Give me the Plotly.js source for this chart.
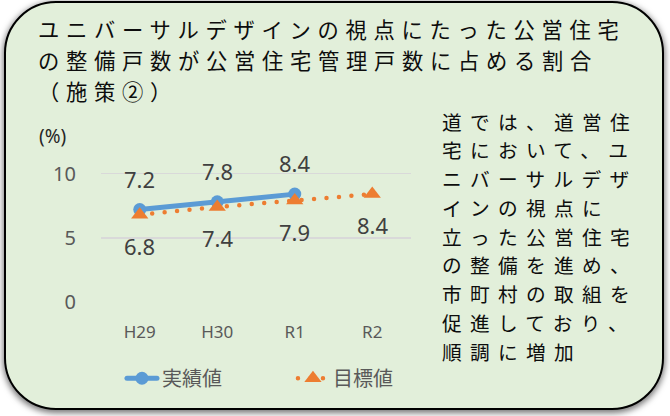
<!DOCTYPE html>
<html><head><meta charset="utf-8">
<script src="https://cdn.plot.ly/plotly-3.0.1.min.js"></script>
<style>
html,body{margin:0;padding:0;background:#fff;}
#wrap{position:relative;width:670px;height:416px;overflow:hidden;}
#box{position:absolute;left:4px;top:1px;width:660px;height:409px;box-sizing:border-box;border:2px solid #000;border-radius:52px;background:#e2efda;box-shadow:0 2px 6px 1px rgba(0,0,0,0.55);}
#chart{position:absolute;left:0;top:0;width:670px;height:416px;}
.js-line{stroke-linecap:round;}
</style></head>
<body><div id="wrap"><div id="box"></div><div id="chart"></div></div>
<script>
const categories = ['H29', 'H30', 'R1', 'R2'];
const actualValues = [7.2, 7.8, 8.4, null];
const targetValues = [6.8, 7.4, 7.9, 8.4];
const seriesNames = ['実績値', '目標値'];
const yTicks = [0, 5, 10];
const unitLabel = '(%)';
const titleLines = [
  'ユニバーサルデザインの視点にたった公営住宅',
  'の整備戸数が公営住宅管理戸数に占める割合',
  '（施策②）'
];
const noteLines = [
  '道では、道営住',
  '宅において、ユ',
  'ニバーサルデザ',
  'インの視点に',
  '立った公営住宅',
  'の整備を進め、',
  '市町村の取組を',
  '促進しており、',
  '順調に増加'
];

const W = 670, H = 416;
const ML = 101, PW = 310, MT = 171.44, PH = 130.56;
const px = x => (x - ML) / PW;
const py = y => (MT + PH - y) / PH;

const JP = '"Noto Sans CJK JP", "Noto Sans", sans-serif';
const LAT = '"Noto Sans", "Noto Sans CJK JP", sans-serif';

const TITLE_SIZE = 21.3, NOTE_SIZE = 19.7, CELL = 28;
const css = [];
titleLines.forEach((t, i) => css.push('g.annotation[data-index="' + i + '"] text{letter-spacing:' + (CELL - TITLE_SIZE) + 'px;}'));
noteLines.forEach((t, i) => css.push('g.annotation[data-index="' + (titleLines.length + i) + '"] text{letter-spacing:' + (CELL - NOTE_SIZE) + 'px;}'));
const st = document.createElement('style'); st.textContent = css.join('\n'); document.head.appendChild(st);

const annotations = [];
titleLines.forEach((t, i) => {
  annotations.push({text: t, xref: 'paper', yref: 'paper', x: px(36), y: py(29 + 31 * i),
    xanchor: 'left', yanchor: 'middle', align: 'left', showarrow: false,
    font: {family: JP, size: TITLE_SIZE, color: '#0d0d0d'}});
});
noteLines.forEach((t, i) => {
  annotations.push({text: t, xref: 'paper', yref: 'paper', x: px(440), y: py(121.7 + 28.65 * i),
    xanchor: 'left', yanchor: 'middle', align: 'left', showarrow: false,
    font: {family: JP, size: NOTE_SIZE, color: '#0d0d0d'}});
});
annotations.push({text: unitLabel, xref: 'paper', yref: 'paper', x: px(52), y: py(137),
  xanchor: 'center', yanchor: 'middle', showarrow: false,
  font: {family: LAT, size: 19, color: '#262626'}});
categories.forEach((c, i) => {
  if (actualValues[i] != null) annotations.push({text: actualValues[i].toFixed(1), x: c, y: actualValues[i],
    xref: 'x', yref: 'y', yshift: 31, showarrow: false, font: {family: LAT, size: 22, color: '#404040'}});
  if (targetValues[i] != null) annotations.push({text: targetValues[i].toFixed(1), x: c, y: targetValues[i],
    xref: 'x', yref: 'y', yshift: -31, showarrow: false, font: {family: LAT, size: 22, color: '#404040'}});
});

const traces = [
  {type: 'scatter', mode: 'lines+markers', name: seriesNames[0], x: categories, y: actualValues,
   line: {color: '#5b9bd5', width: 5}, marker: {symbol: 'circle', size: 13, color: '#5b9bd5'},
   cliponaxis: false, hoverinfo: 'skip'},
  {type: 'scatter', mode: 'lines+markers', name: seriesNames[1], x: categories, y: targetValues,
   line: {color: '#ed7d31', width: 4.5, dash: '0px,12.5px'}, marker: {symbol: 'triangle-up', size: 15, color: '#ed7d31'},
   cliponaxis: false, hoverinfo: 'skip'}
];

const layout = {
  width: W, height: H,
  margin: {l: ML, r: W - ML - PW, t: MT, b: H - MT - PH, pad: 0},
  paper_bgcolor: 'rgba(0,0,0,0)', plot_bgcolor: 'rgba(0,0,0,0)',
  showlegend: true,
  legend: {orientation: 'h', x: -0.0001, y: py(378), xanchor: 'left', yanchor: 'middle',
    indentation: 21, font: {family: JP, size: 20, color: '#595959'}, bgcolor: 'rgba(0,0,0,0)', entrywidth: 105},
  xaxis: {type: 'category', range: [-0.5, 3.5], showgrid: false, zeroline: false, showline: false,
    ticks: '', ticklabelstandoff: 18, tickfont: {family: LAT, size: 17, color: '#595959'}, fixedrange: true},
  yaxis: {range: [0, 10.2], tickvals: yTicks, ticktext: yTicks.map(String), showgrid: true,
    gridcolor: '#d9d9d9', gridwidth: 1.5, zeroline: false, showline: false, ticks: '',
    ticklabelstandoff: 24, tickfont: {family: LAT, size: 20, color: '#595959'}, fixedrange: true},
  annotations: annotations
};

Plotly.newPlot('chart', traces, layout, {staticPlot: true, displayModeBar: false});
</script>
</body></html>
